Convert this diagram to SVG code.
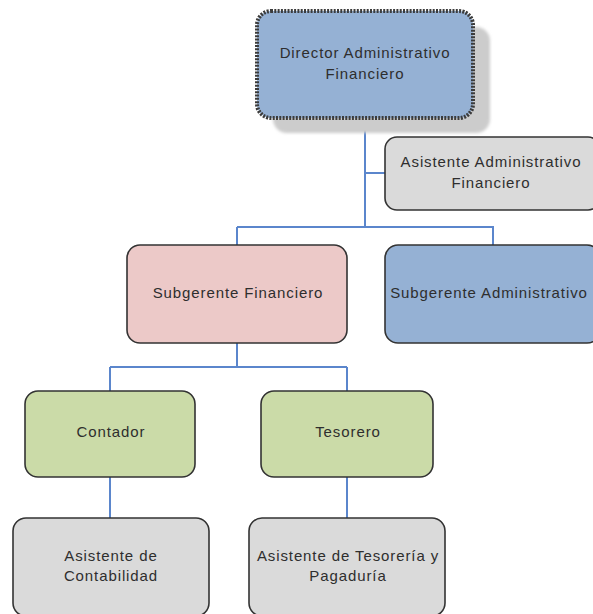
<svg xmlns="http://www.w3.org/2000/svg" width="593" height="614" viewBox="0 0 593 614">
  <style>
    .box { stroke: #333; stroke-width: 1.6; }
    .blue { fill: #95b1d4; }
    .gray { fill: #dadada; }
    .pink { fill: #ecc9c8; }
    .green { fill: #cbdba8; }
    .lbl { font-family: "Liberation Sans", Arial, sans-serif; font-size: 15px; letter-spacing: 0.9px; fill: #2e2e2e; text-anchor: middle; }
    .conn { fill: none; stroke: #5b86cc; stroke-width: 2; }
  </style>
  <defs>
    <filter id="soft" x="-20%" y="-20%" width="140%" height="140%">
      <feGaussianBlur stdDeviation="1.5"/>
    </filter>
  </defs>
  <rect width="593" height="614" fill="#ffffff"/>

  <!-- connectors -->
  <g id="connectors">
    <path class="conn" d="M365 118 V227"/>
    <path class="conn" d="M365 173 H385"/>
    <path class="conn" d="M237 227 H493 V245"/>
    <path class="conn" d="M237 227 V245"/>
    <path class="conn" d="M237 343 V367"/>
    <path class="conn" d="M110 367 H347"/>
    <path class="conn" d="M110 367 V391"/>
    <path class="conn" d="M347 367 V391"/>
    <path class="conn" d="M110 477 V518"/>
    <path class="conn" d="M347 477 V518"/>
  </g>

  <g id="director">
    <rect x="273" y="27" width="217" height="106" rx="14" fill="#cccccc" filter="url(#soft)"/>
    <rect class="blue" x="257" y="11" width="216" height="107" rx="14" stroke="#3c3c3c" stroke-width="4" stroke-dasharray="2 1.3"/>
    <text class="lbl" x="365" y="58">Director Administrativo</text>
    <text class="lbl" x="365" y="79">Financiero</text>
  </g>

  <g id="asistente-admin">
    <rect class="box gray" x="385" y="137" width="215" height="73" rx="12"/>
    <text class="lbl" x="491" y="167">Asistente Administrativo</text>
    <text class="lbl" x="491" y="188">Financiero</text>
  </g>

  <g id="subgerente-financiero">
    <rect class="box pink" x="127" y="245" width="220" height="98" rx="13"/>
    <text class="lbl" x="238" y="298">Subgerente Financiero</text>
  </g>

  <g id="subgerente-administrativo">
    <rect class="box blue" x="385" y="245" width="215" height="98" rx="13"/>
    <text class="lbl" x="489" y="298">Subgerente Administrativo</text>
  </g>

  <g id="contador">
    <rect class="box green" x="25" y="391" width="170" height="86" rx="13"/>
    <text class="lbl" x="111" y="437">Contador</text>
  </g>

  <g id="tesorero">
    <rect class="box green" x="261" y="391" width="172" height="86" rx="13"/>
    <text class="lbl" x="348" y="437">Tesorero</text>
  </g>

  <g id="asistente-contabilidad">
    <rect class="box gray" x="13" y="518" width="196" height="98" rx="13"/>
    <text class="lbl" x="111" y="561">Asistente de</text>
    <text class="lbl" x="111" y="581">Contabilidad</text>
  </g>

  <g id="asistente-tesoreria">
    <rect class="box gray" x="249" y="518" width="196" height="98" rx="13"/>
    <text class="lbl" x="348" y="561">Asistente de Tesorería y</text>
    <text class="lbl" x="348" y="581">Pagaduría</text>
  </g>
</svg>
